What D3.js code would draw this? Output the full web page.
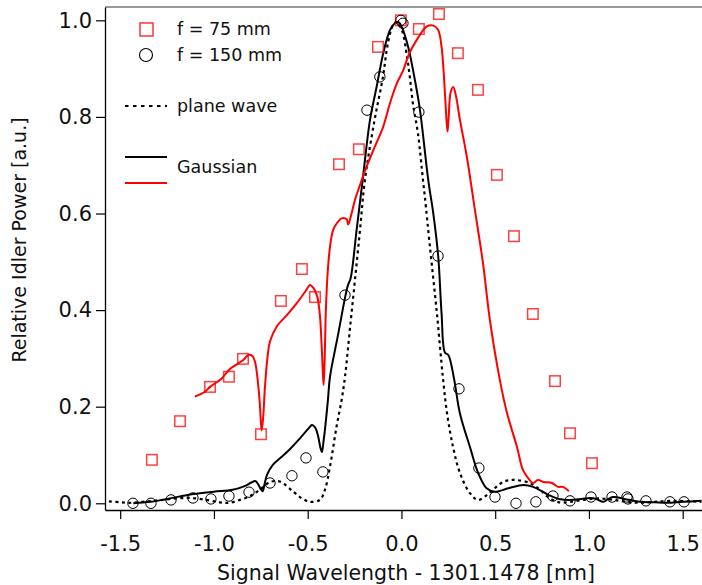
<!DOCTYPE html>
<html>
<head>
<meta charset="utf-8">
<script src="https://cdn.jsdelivr.net/npm/d3@7"></script>
<style>
  body { margin: 0; background: #fff; }
  svg text { font-family: "DejaVu Sans", sans-serif; fill: #111; }
</style>
</head>
<body>
<div id="chart"></div>
<script>
/**
 * DATA
 * x = signal wavelength offset [nm], y = relative idler power
 * */
const squares75 = [
  [-1.331, 0.09], [-1.181, 0.17], [-1.021, 0.241], [-0.92, 0.262], [-0.845, 0.299],
  [-0.749, 0.143], [-0.643, 0.419], [-0.531, 0.485], [-0.461, 0.427], [-0.333, 0.702],
  [-0.227, 0.733], [-0.125, 0.945], [-0.003, 1.0], [0.093, 0.982], [0.2, 1.013],
  [0.301, 0.932], [0.408, 0.856], [0.509, 0.68], [0.6, 0.553], [0.701, 0.392],
  [0.819, 0.253], [0.899, 0.145], [1.016, 0.083]
];

const circles150 = [
  [-1.432, 0.0], [-1.336, 0.0], [-1.229, 0.007], [-1.112, 0.011], [-1.016, 0.009],
  [-0.92, 0.015], [-0.813, 0.023], [-0.701, 0.042], [-0.584, 0.057], [-0.509, 0.094],
  [-0.419, 0.065], [-0.301, 0.431], [-0.184, 0.814], [-0.115, 0.883], [-0.003, 1.0],
  [0.008, 0.994], [0.093, 0.81], [0.195, 0.512], [0.307, 0.237], [0.413, 0.073],
  [0.499, 0.013], [0.611, 0.0], [0.717, 0.003], [0.808, 0.015], [0.899, 0.005],
  [1.011, 0.013], [1.123, 0.013], [1.203, 0.013], [1.208, 0.009], [1.304, 0.005],
  [1.432, 0.003], [1.507, 0.003]
];

const planeWave = [
  [-1.56, 0.004], [-1.5, 0.002], [-1.45, 0.001], [-1.38, 0.003], [-1.3, 0.006],
  [-1.2, 0.01], [-1.12, 0.011], [-1.04, 0.007], [-0.97, 0.002], [-0.92, 0.001],
  [-0.861, 0.007], [-0.808, 0.015], [-0.755, 0.028], [-0.701, 0.044], [-0.648, 0.045],
  [-0.577, 0.024], [-0.53, 0.01], [-0.488, 0.003], [-0.435, 0.007], [-0.408, 0.028],
  [-0.381, 0.076], [-0.346, 0.159], [-0.319, 0.214], [-0.301, 0.262], [-0.275, 0.36],
  [-0.248, 0.462], [-0.22, 0.57], [-0.195, 0.669], [-0.145, 0.79], [-0.099, 0.882],
  [-0.072, 0.953], [-0.045, 0.99], [-0.025, 0.997], [0.003, 0.979], [0.03, 0.924],
  [0.045, 0.882], [0.061, 0.828], [0.088, 0.766], [0.115, 0.669], [0.125, 0.634],
  [0.152, 0.531], [0.189, 0.394], [0.221, 0.261], [0.243, 0.187], [0.275, 0.117],
  [0.312, 0.063], [0.365, 0.021], [0.408, 0.007], [0.456, 0.017], [0.5, 0.032],
  [0.541, 0.044], [0.58, 0.048], [0.616, 0.048], [0.685, 0.042], [0.739, 0.028],
  [0.781, 0.013], [0.84, 0.002], [0.9, 0.003], [0.97, 0.007], [1.05, 0.01],
  [1.13, 0.007], [1.2, 0.003], [1.27, 0.001], [1.35, 0.003], [1.45, 0.005],
  [1.55, 0.004], [1.6, 0.003]
];

const gauss150 = [
  [-1.43, 0.0], [-1.34, 0.003], [-1.25, 0.009], [-1.11, 0.019], [-1.0, 0.024],
  [-0.9, 0.028], [-0.84, 0.035], [-0.8, 0.043], [-0.78, 0.046], [-0.765, 0.04],
  [-0.752, 0.03], [-0.74, 0.025], [-0.73, 0.04], [-0.717, 0.059], [-0.685, 0.08],
  [-0.64, 0.096], [-0.595, 0.112], [-0.54, 0.135], [-0.495, 0.155], [-0.477, 0.162],
  [-0.46, 0.157], [-0.445, 0.14], [-0.432, 0.115], [-0.424, 0.106], [-0.415, 0.13],
  [-0.408, 0.152], [-0.392, 0.214], [-0.381, 0.262], [-0.34, 0.345], [-0.298, 0.431],
  [-0.285, 0.452], [-0.271, 0.466], [-0.239, 0.566], [-0.207, 0.669], [-0.168, 0.793],
  [-0.132, 0.863], [-0.097, 0.932], [-0.061, 0.98], [-0.035, 0.994], [-0.015, 0.996],
  [0.001, 0.987], [0.036, 0.945], [0.072, 0.876], [0.099, 0.814], [0.143, 0.669],
  [0.17, 0.6], [0.196, 0.512], [0.214, 0.393], [0.232, 0.312], [0.25, 0.307],
  [0.28, 0.259], [0.312, 0.186], [0.365, 0.117], [0.41, 0.062], [0.454, 0.031],
  [0.499, 0.024], [0.57, 0.031], [0.65, 0.038], [0.703, 0.034], [0.786, 0.017],
  [0.84, 0.009], [0.899, 0.007], [0.96, 0.009], [1.005, 0.011], [1.04, 0.009],
  [1.075, 0.003], [1.1, 0.008], [1.128, 0.013], [1.2, 0.008], [1.272, 0.003],
  [1.35, 0.002], [1.416, 0.001], [1.5, 0.003], [1.6, 0.005]
];

const gauss75 = [
  [-1.101, 0.221], [-1.048, 0.231], [-1.021, 0.241], [-0.96, 0.258], [-0.915, 0.278],
  [-0.845, 0.296], [-0.817, 0.307], [-0.795, 0.305], [-0.781, 0.293], [-0.768, 0.26],
  [-0.755, 0.205], [-0.746, 0.151], [-0.738, 0.175], [-0.728, 0.24], [-0.715, 0.3],
  [-0.701, 0.335], [-0.665, 0.366], [-0.61, 0.39], [-0.559, 0.414], [-0.51, 0.44],
  [-0.488, 0.452], [-0.468, 0.445], [-0.449, 0.428], [-0.435, 0.39], [-0.426, 0.33],
  [-0.419, 0.27], [-0.415, 0.245], [-0.41, 0.29], [-0.403, 0.4], [-0.393, 0.48],
  [-0.381, 0.531], [-0.364, 0.566], [-0.34, 0.582], [-0.319, 0.59], [-0.292, 0.588],
  [-0.284, 0.577], [-0.266, 0.6], [-0.248, 0.628], [-0.221, 0.659], [-0.186, 0.697],
  [-0.14, 0.74], [-0.097, 0.78], [-0.06, 0.83], [-0.024, 0.87], [0.01, 0.897],
  [0.04, 0.93], [0.081, 0.959], [0.134, 0.987], [0.17, 0.989], [0.196, 0.98],
  [0.214, 0.945], [0.224, 0.9], [0.232, 0.849], [0.241, 0.79], [0.246, 0.77],
  [0.252, 0.8], [0.262, 0.85], [0.276, 0.862], [0.29, 0.845], [0.312, 0.794],
  [0.349, 0.717], [0.392, 0.607], [0.435, 0.497], [0.472, 0.379], [0.525, 0.255],
  [0.563, 0.187], [0.616, 0.117], [0.648, 0.069], [0.68, 0.05], [0.701, 0.042],
  [0.728, 0.048], [0.76, 0.044], [0.803, 0.042], [0.835, 0.034], [0.861, 0.034],
  [0.893, 0.025]
];

const xTicks = [-1.5, -1.0, -0.5, 0.0, 0.5, 1.0, 1.5];
const yTicks = [0.0, 0.2, 0.4, 0.6, 0.8, 1.0];

/**
 * CONSTANTS
 * */
const width = 702,
  height = 585,
  margin = { top: 7, right: 0, bottom: 75, left: 105 };

const x = d3.scaleLinear()
  .domain([-1.581, 1.603])
  .range([margin.left, width - margin.right]);

const y = d3.scaleLinear()
  .domain([-0.0139, 1.0276])
  .range([height - margin.bottom, margin.top]);

const svg = d3.select("#chart")
  .append("svg")
  .attr("width", width)
  .attr("height", height);

// frame top (grey)
svg.append("line")
  .attr("x1", margin.left).attr("x2", width)
  .attr("y1", margin.top).attr("y2", margin.top)
  .attr("stroke", "#777")
  .attr("stroke-width", 1.5);

// axes
const xAxis = svg.append("g")
  .attr("transform", `translate(0,${height - margin.bottom})`)
  .call(d3.axisBottom(x).tickValues(xTicks).tickFormat(d => d.toFixed(1))
    .tickSize(9).tickSizeOuter(0).tickPadding(17));

const yAxis = svg.append("g")
  .attr("transform", `translate(${margin.left},0)`)
  .call(d3.axisLeft(y).tickValues(yTicks).tickFormat(d => d.toFixed(1))
    .tickSize(9).tickSizeOuter(0).tickPadding(4));

[xAxis, yAxis].forEach(g => {
  g.select(".domain").attr("stroke", "#000").attr("stroke-width", 1.3);
  g.selectAll(".tick line").attr("stroke", "#000").attr("stroke-width", 1.2);
  g.selectAll(".tick text")
    .style("font-family", '"DejaVu Sans", sans-serif')
    .style("font-size", "21px")
    .attr("fill", "#111");
});

// axis titles
svg.append("text")
  .attr("x", 406)
  .attr("y", 580)
  .attr("text-anchor", "middle")
  .style("font-size", "20.5px")
  .text("Signal Wavelength - 1301.1478 [nm]");

svg.append("text")
  .attr("transform", "translate(26,240) rotate(-90)")
  .attr("text-anchor", "middle")
  .style("font-size", "19px")
  .text("Relative Idler Power [a.u.]");

// curves
const line = d3.line()
  .x(d => x(d[0]))
  .y(d => y(d[1]))
  .curve(d3.curveCatmullRom.alpha(0.5));

svg.append("path")
  .datum(planeWave)
  .attr("d", line)
  .attr("fill", "none")
  .attr("stroke", "#000")
  .attr("stroke-width", 2.2)
  .attr("stroke-dasharray", "3,3.5");

svg.append("path")
  .datum(gauss150)
  .attr("d", line)
  .attr("fill", "none")
  .attr("stroke", "#000")
  .attr("stroke-width", 2);

svg.append("path")
  .datum(gauss75)
  .attr("d", line)
  .attr("fill", "none")
  .attr("stroke", "#f00")
  .attr("stroke-width", 2);

// markers
const sq = 10.5;
svg.selectAll(".sq")
  .data(squares75)
  .join("rect")
  .attr("class", "sq")
  .attr("x", d => x(d[0]) - sq / 2)
  .attr("y", d => y(d[1]) - sq / 2)
  .attr("width", sq)
  .attr("height", sq)
  .attr("fill", "none")
  .attr("stroke", "rgba(255,0,0,0.75)")
  .attr("stroke-width", 1.5);

svg.selectAll(".circ")
  .data(circles150)
  .join("circle")
  .attr("class", "circ")
  .attr("cx", d => x(d[0]))
  .attr("cy", d => y(d[1]))
  .attr("r", 5.2)
  .attr("fill", "none")
  .attr("stroke", "#000")
  .attr("stroke-width", 1);

// legend
const legend = svg.append("g");
legend.append("rect")
  .attr("x", 140).attr("y", 23).attr("width", 13).attr("height", 13)
  .attr("fill", "none").attr("stroke", "rgba(255,0,0,0.8)").attr("stroke-width", 1.5);
legend.append("circle")
  .attr("cx", 146).attr("cy", 55).attr("r", 6.5)
  .attr("fill", "none").attr("stroke", "#000").attr("stroke-width", 1.1);
legend.append("line")
  .attr("x1", 125).attr("x2", 167).attr("y1", 106).attr("y2", 106)
  .attr("stroke", "#000").attr("stroke-width", 2).attr("stroke-dasharray", "3.5,4.5");
legend.append("line")
  .attr("x1", 125).attr("x2", 167).attr("y1", 157).attr("y2", 157)
  .attr("stroke", "#000").attr("stroke-width", 2);
legend.append("line")
  .attr("x1", 125).attr("x2", 167).attr("y1", 183).attr("y2", 183)
  .attr("stroke", "#f00").attr("stroke-width", 2);

const legendText = [
  { t: "f = 75 mm", y: 29 },
  { t: "f = 150 mm", y: 55 },
  { t: "plane wave", y: 106 },
  { t: "Gaussian", y: 167 }
];
legend.selectAll(".lt")
  .data(legendText)
  .join("text")
  .attr("class", "lt")
  .attr("x", 177)
  .attr("y", d => d.y)
  .attr("dy", "0.35em")
  .style("font-size", "17.5px")
  .text(d => d.t);
</script>
</body>
</html>
